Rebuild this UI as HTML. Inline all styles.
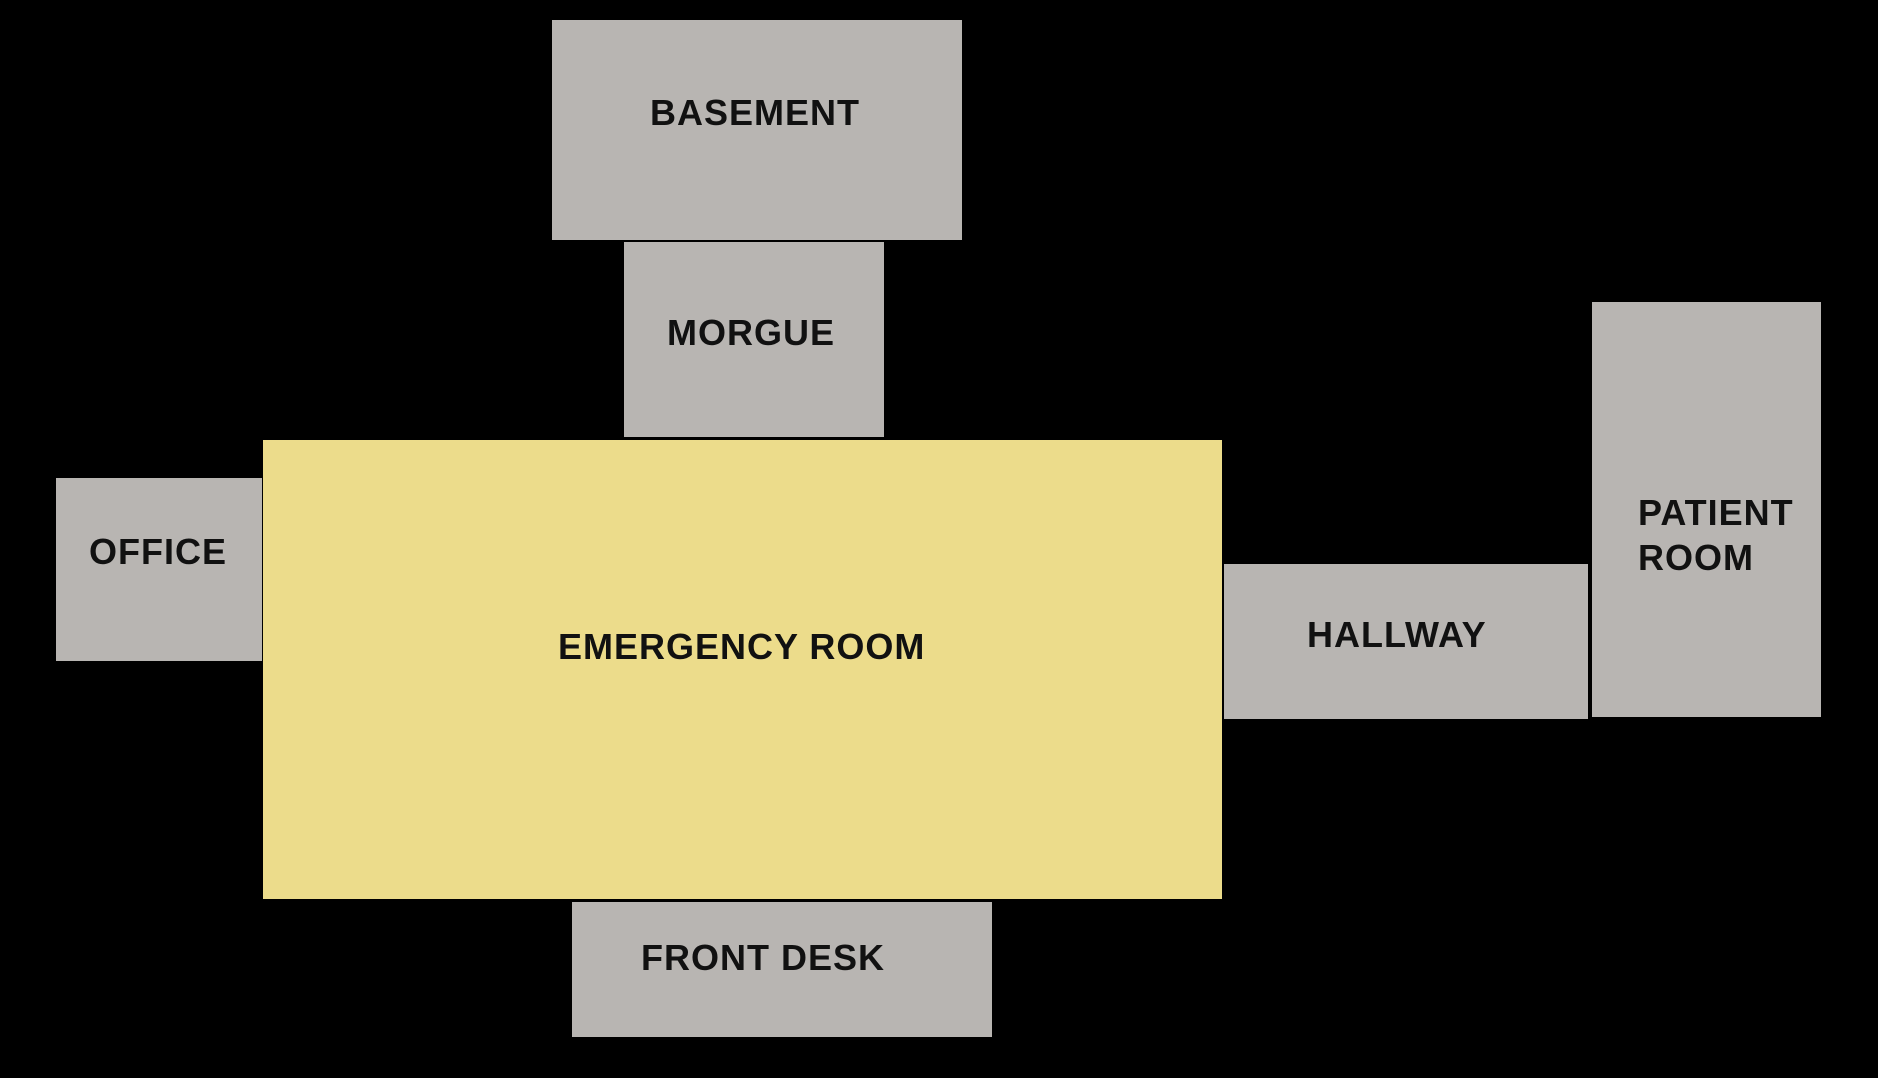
<!DOCTYPE html>
<html><head><meta charset="utf-8"><style>
html,body{margin:0;padding:0;background:#000;}
body{width:1878px;height:1078px;position:relative;overflow:hidden;font-family:"Liberation Sans",Arial,sans-serif;}
.r{position:absolute;background:#b8b5b2;}
.y{background:#ecdc8b;}
.t{position:absolute;font-weight:bold;font-size:36px;color:#111;letter-spacing:1px;line-height:44px;white-space:nowrap;transform:translateY(-50%);}
</style></head><body>
<div class="r" style="left:552px;top:20px;width:410px;height:220px"></div>
<div class="r" style="left:624px;top:242px;width:260px;height:195px"></div>
<div class="r y" style="left:263px;top:440px;width:959px;height:459px"></div>
<div class="r" style="left:56px;top:478px;width:206px;height:183px"></div>
<div class="r" style="left:1224px;top:564px;width:364px;height:155px"></div>
<div class="r" style="left:1592px;top:302px;width:229px;height:415px"></div>
<div class="r" style="left:572px;top:902px;width:420px;height:135px"></div>
<div class="t" style="left:650px;top:113px">BASEMENT</div>
<div class="t" style="left:667px;top:333px">MORGUE</div>
<div class="t" style="left:89px;top:552px">OFFICE</div>
<div class="t" style="left:558px;top:647px">EMERGENCY ROOM</div>
<div class="t" style="left:1307px;top:635px">HALLWAY</div>
<div class="t" style="left:1638px;top:513px">PATIENT</div>
<div class="t" style="left:1638px;top:558px">ROOM</div>
<div class="t" style="left:641px;top:958px">FRONT DESK</div>
</body></html>
